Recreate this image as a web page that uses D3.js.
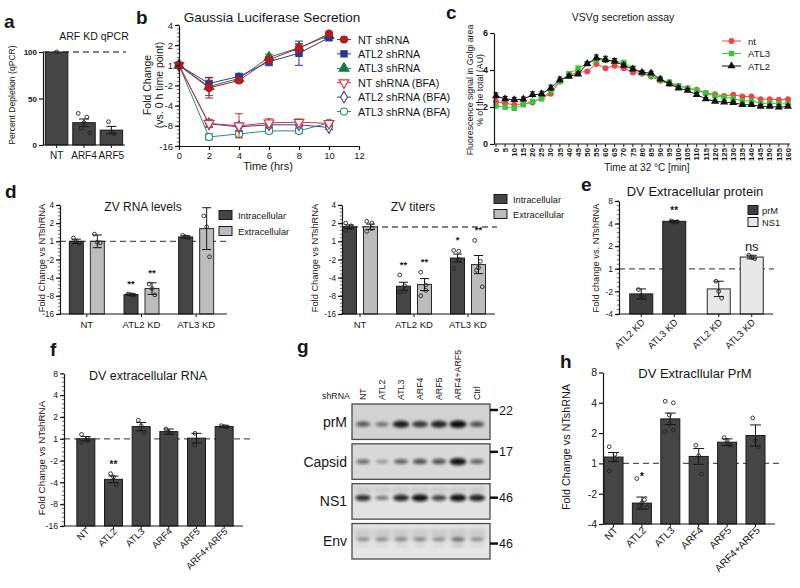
<!DOCTYPE html>
<html>
<head>
<meta charset="utf-8">
<script src="https://cdn.jsdelivr.net/npm/d3@7/dist/d3.min.js"></script>
<style>
html,body{margin:0;padding:0;background:#fff;}
svg{display:block;font-family:'Liberation Sans',Arial,Helvetica,sans-serif;}
</style>
</head>
<body>
<svg id="chart" width="800" height="588"></svg>
<script>
// ================= DATA =================
// Panel a
const aCats = ["NT", "ARF4", "ARF5"];
const aMean = [100, 24, 16];
const aErr = [0, 4, 4];
const aPts = [[100], [34, 30, 24, 18, 13], [25, 14, 12]];
const aTicks = [0, 50, 100];

// Panel b (signed log2 fold units: 0 = "1", 1 = "2", -1 = "-2", -3 = "-8")
const bTime = [0, 2, 4, 6, 8, 10];
const bXTicks = [0, 2, 4, 6, 8, 10, 12];
const bTicks = [-4, -3, -2, -1, 0, 1, 2];
const bTickLabels = ["-16", "-8", "-4", "-2", "1", "2", "4"];
const bNames = ["NT shRNA", "ATL2 shRNA", "ATL3 shRNA", "NT shRNA (BFA)", "ATL2 shRNA (BFA)", "ATL3 shRNA (BFA)"];
const bNT    = [0, -1.12, -0.75, 0.28, 0.85, 1.56];
const bATL2  = [0, -0.9, -0.55, 0.18, 0.6, 1.37];
const bATL3  = [0, -1.05, -0.65, 0.4, 0.87, 1.48];
const bNTb   = [0, -2.88, -3.0, -2.85, -2.82, -2.88];
const bATL2b = [0, -2.9, -3.05, -2.95, -2.95, -3.08];
const bATL3b = [0, -3.55, -3.4, -3.25, -3.25, -2.85];
const bNTe    = [0.1, 0.5, 0.1, 0.15, 0.2, 0.08];
const bATL2e  = [0.1, 0.3, 0.08, 0.2, 0.6, 0.05];
const bATL3e  = [0.1, 0.45, 0.1, 0.15, 0.2, 0.08];
const bNTbe   = [0.1, 0.2, 0.6, 0.2, 0.15, 0.12];
const bATL2be = [0.1, 0.15, 0.2, 0.12, 0.1, 0.1];
const bATL3be = [0.1, 0.15, 0.15, 0.12, 0.12, 0.1];

// Panel c
const cTime = [0,5,10,15,20,25,30,35,40,45,50,55,60,65,70,75,80,85,90,95,100,105,110,115,120,125,130,135,140,145,150,155,160];
const cYTicks = [0, 2, 4, 6];
const cNames = ["nt", "ATL3", "ATL2"];
const cNT   = [2.30,2.20,2.12,2.17,2.24,2.48,2.71,3.38,3.74,3.87,3.92,4.32,4.10,4.23,4.10,3.87,3.80,3.65,3.42,3.25,3.15,3.02,2.93,2.75,2.69,2.60,2.66,2.57,2.57,2.42,2.42,2.39,2.42];
const cATL3 = [2.06,1.99,1.93,2.12,2.30,2.44,2.88,3.38,3.80,4.10,4.34,4.56,4.52,4.47,4.41,4.10,3.83,3.70,3.47,3.35,3.15,3.02,2.89,2.75,2.60,2.53,2.46,2.33,2.33,2.20,2.20,2.17,2.17];
const cATL2 = [2.60,2.44,2.39,2.42,2.66,2.71,3.02,3.47,3.65,3.78,4.34,4.65,4.56,4.47,4.25,4.05,3.87,3.83,3.50,3.25,3.02,2.89,2.66,2.44,2.30,2.26,2.24,2.12,2.12,2.03,2.03,1.99,2.03];
const cATL2e = [0.16,0.13,0.13,0.12,0.16,0.14,0.16,0.15,0.12,0.10,0.10,0.16,0.18,0.15,0.12,0.12,0.10,0.10,0.12,0.10,0.10,0.10,0.12,0.08,0.08,0.08,0.08,0.10,0.10,0.10,0.10,0.12,0.10];

// Panel d (signed log2 fold units)
const dCats = ["NT", "ATL2 KD", "ATL3 KD"];
const dSeries = ["Intracellular", "Extracellular"];
const dTicks = [-4, -3, -2, -1, 0, 1, 2];
const dTickLabels = ["-16", "-8", "-4", "-2", "1", "2", "4"];
const dRnaIn  = [0, -2.93, 0.24];
const dRnaEx  = [0, -2.6, 0.7];
const dRnaInE = [0.12, 0.04, 0.07];
const dRnaExE = [0.35, 0.32, 1.15];
const dRnaInP = [[0.18, 0.0, -0.1], [-2.9, -2.93, -2.96], [0.33, 0.25, 0.2]];
const dRnaExP = [[0.4, -0.05, -0.08], [-2.35, -2.6, -2.95], [1.4, 0.8, -0.85]];
const dRnaInS = ["", "**", ""];
const dRnaExS = ["", "**", ""];
const dTitIn  = [0.8, -2.47, -0.92];
const dTitEx  = [0.8, -2.38, -1.28];
const dTitInE = [0.1, 0.22, 0.22];
const dTitExE = [0.15, 0.33, 0.5];
const dTitInP = [[1.0, 0.85, 0.75, 0.6], [-1.85, -2.45, -2.75, -2.8], [-0.5, -0.55, -1.0, -1.5]];
const dTitExP = [[1.1, 1.0, 0.7, 0.55], [-1.7, -2.4, -2.7, -3.0], [0.05, -1.1, -1.45, -1.6, -2.5]];
const dTitInS = ["", "**", "*"];
const dTitExS = ["", "**", "**"];

// Panel e
const eSeries = ["prM", "NS1"];
const eCats = ["ATL2 KD", "ATL3 KD"];
const eTicks = [-2, -1, 0, 1, 2, 3];
const eTickLabels = ["-4", "-2", "1", "2", "4", "8"];
const ePrM  = [-1.11, 2.1];
const eNS1  = [-0.89, 0.52];
const ePrME = [0.22, 0.04];
const eNS1E = [0.34, 0.08];
const ePrMP = [[-0.92, -1.2, -1.28], [2.12, 2.06, 2.08]];
const eNS1P = [[-0.55, -1.0, -1.3], [0.6, 0.5, 0.45]];
const ePrMS = ["", "**"];
const eNS1S = ["", "ns"];

// Panel f
const fCats = ["NT", "ATL2", "ATL3", "ARF4", "ARF5", "ARF4+ARF5"];
const fTicks = [-4, -3, -2, -1, 0, 1, 2, 3];
const fTickLabels = ["-16", "-8", "-4", "-2", "1", "2", "4", "8"];
const fMean = [0, -1.86, 0.56, 0.33, 0.03, 0.56];
const fErr  = [0.1, 0.15, 0.19, 0.12, 0.22, 0.03];
const fPts  = [[0.2, 0.02, -0.1, -0.15], [-1.6, -1.75, -2.1], [0.85, 0.6, 0.3], [0.45, 0.3, 0.25], [0.25, -0.3], [0.6, 0.57, 0.55]];
const fStars = ["", "**", "", "", "", ""];

// Panel g (western blot band intensities, 0..1)
const gLanes = ["NT", "ATL2", "ATL3", "ARF4", "ARF5", "ARF4+ARF5", "Ctrl"];
const gRows = ["prM", "Capsid", "NS1", "Env"];
const gMW = ["22", "17", "46", "46"];
const gPrM    = [0.5, 0.35, 0.9, 0.72, 0.85, 1.0, 0.55];
const gCapsid = [0.4, 0.15, 0.45, 0.55, 0.55, 0.95, 0.45];
const gNS1    = [0.75, 0.35, 0.82, 0.95, 0.65, 0.95, 0.85];
const gEnv    = [0.18, 0.18, 0.2, 0.2, 0.18, 0.35, 0.18];

// Panel h
const hCats = ["NT", "ATL2", "ATL3", "ARF4", "ARF5", "ARF4+ARF5"];
const hTicks = [-2, -1, 0, 1, 2, 3];
const hTickLabels = ["-4", "-2", "1", "2", "4", "8"];
const hMean = [0.21, -1.31, 1.47, 0.23, 0.7, 0.92];
const hErr  = [0.15, 0.2, 0.19, 0.26, 0.11, 0.35];
const hPts  = [[0.55, 0.3, 0.15, -0.25], [-0.5, -1.2, -1.3, -1.4, -1.45], [2.05, 2.0, 1.6, 1.3, 1.1, 1.05], [0.6, 0.25, -0.35], [0.85, 0.75, 0.6], [1.5, 0.75, 0.55]];
const hStars = ["", "*", "", "", "", ""];

// ================= HELPERS =================
const svg = d3.select("#chart");
const FONT = "'Liberation Sans', Arial, Helvetica, sans-serif";
const INK = "#161616";
const DARK = "#454545";
const LIGHT = "#bcbcbc";

function text(g, x, y, s, fs, o = {}) {
  const t = g.append("text").attr("x", x).attr("y", y).text(s)
    .attr("font-size", fs).attr("fill", o.fill || INK)
    .attr("text-anchor", o.anchor || "start")
    .attr("font-weight", o.fw || "normal");
  if (o.rot) t.attr("transform", `rotate(${o.rot},${x},${y})`);
  return t;
}

function yAxis(g, y, x0, ticks, labels, fs, o = {}) {
  const a = g.append("g").attr("transform", `translate(${x0},0)`)
    .call(d3.axisLeft(y).tickValues(ticks).tickFormat((d, i) => labels[i])
      .tickSize(o.ts || 4).tickSizeOuter(0).tickPadding(o.pad || 2));
  a.select(".domain").attr("stroke", INK).attr("stroke-width", o.sw || 1.2);
  a.selectAll(".tick line").attr("stroke", INK).attr("stroke-width", o.sw || 1.2);
  a.selectAll(".tick text").attr("font-size", fs).attr("fill", INK)
    .attr("font-family", FONT).attr("font-weight", o.fw || "normal");
  if (o.minor) {
    const dm = y.domain();
    const mv = d3.range(Math.min(...dm), Math.max(...dm) + 1e-9, o.minor);
    a.append("g").selectAll("line").data(mv).join("line")
      .attr("x1", -2.2).attr("x2", 0).attr("y1", d => y(d)).attr("y2", d => y(d))
      .attr("stroke", INK).attr("stroke-width", 0.6);
  }
  return a;
}

function xBase(g, x1, x2, y0, centers, ts = 3) {
  g.append("line").attr("x1", x1).attr("x2", x2).attr("y1", y0).attr("y2", y0)
    .attr("stroke", INK).attr("stroke-width", 1.2);
  g.append("g").selectAll("line").data(centers).join("line")
    .attr("x1", d => d).attr("x2", d => d).attr("y1", y0).attr("y2", y0 + ts)
    .attr("stroke", INK).attr("stroke-width", 1);
}

function dashed(g, x1, x2, yy) {
  g.append("line").attr("x1", x1).attr("x2", x2).attr("y1", yy).attr("y2", yy)
    .attr("stroke", "#555").attr("stroke-width", 1.3).attr("stroke-dasharray", "6,4");
}

function drawBars(g, cxs, y, means, errs, pts, bw, fill, o = {}) {
  const base = y.range()[0];
  g.append("g").selectAll("rect").data(means).join("rect")
    .attr("x", (d, i) => cxs[i] - bw / 2).attr("width", bw)
    .attr("y", d => y(d)).attr("height", d => base - y(d))
    .attr("fill", fill).attr("stroke", o.stroke || "#1a1a1a").attr("stroke-width", 1);
  const cw = o.cap || bw * 0.5;
  const eg = g.append("g").attr("stroke", INK).attr("stroke-width", 1);
  means.forEach((m, i) => {
    const e = errs[i];
    if (!e) return;
    const cx = cxs[i];
    eg.append("line").attr("x1", cx).attr("x2", cx).attr("y1", y(m - e)).attr("y2", y(m + e));
    eg.append("line").attr("x1", cx - cw / 2).attr("x2", cx + cw / 2).attr("y1", y(m + e)).attr("y2", y(m + e));
    eg.append("line").attr("x1", cx - cw / 2).attr("x2", cx + cw / 2).attr("y1", y(m - e)).attr("y2", y(m - e));
  });
  const flat = [];
  pts.forEach((arr, i) => {
    const n = arr.length;
    const sp = Math.min(3.2, (bw * 0.6) / Math.max(1, n - 1));
    arr.forEach((v, j) => flat.push({ x: cxs[i] + (j - (n - 1) / 2) * sp * (j % 2 ? -1 : 1) * 0.9, v }));
  });
  g.append("g").selectAll("circle").data(flat).join("circle")
    .attr("cx", d => d.x).attr("cy", d => y(d.v)).attr("r", o.r || 1.9)
    .attr("fill", "none").attr("stroke", "#222").attr("stroke-width", 0.9);
  if (o.stars) {
    o.stars.forEach((s, i) => {
      if (!s) return;
      const top = Math.min(y(means[i] + (errs[i] || 0)), ...pts[i].map(v => y(v)));
      const isNs = s === "ns";
      text(g, cxs[i], top - (isNs ? 4 : (o.starOff || 7)), s, isNs ? (o.nsFs || 12) : (o.starFs || 10),
        { anchor: "middle", fw: isNs ? "normal" : "bold" });
    });
  }
}

function panelLetter(x, y, s) {
  text(svg, x, y, s, 19, { fw: "bold" });
}

// ================= PANEL a =================
(function () {
  const g = svg.append("g");
  const x = d3.scaleBand().domain(aCats).range([44, 124]).paddingInner(0.18).paddingOuter(0.05);
  const y = d3.scaleLinear().domain([0, 100]).range([145, 52]);
  dashed(g, 43, 126, y(100));
  const cx = aCats.map(c => x(c) + x.bandwidth() / 2);
  drawBars(g, cx, y, aMean, aErr, aPts, x.bandwidth(), DARK, { cap: 10 });
  yAxis(g, y, 43, aTicks, aTicks.map(String), 8, { fw: "bold" });
  xBase(g, 43, 125, 145, cx);
  cx.forEach((c, i) => text(g, c, 159, aCats[i], 10, { anchor: "middle" }));
  text(g, 94, 40, "ARF KD qPCR", 10.5, { anchor: "middle" });
  text(g, 15, 95, "Percent Depletion (qPCR)", 8.6, { anchor: "middle", rot: -90 });
  panelLetter(4, 28, "a");
})();

// ================= PANEL b =================
(function () {
  const g = svg.append("g");
  const x = d3.scaleLinear().domain([0, 12]).range([179, 359]);
  const y = d3.scaleLinear().domain([-4, 2]).range([146, 25]);
  const series = [
    { v: bNT, e: bNTe, c: "#b11e24", sym: d3.symbolCircle, fill: true, rot: 0 },
    { v: bATL2, e: bATL2e, c: "#2b3990", sym: d3.symbolSquare, fill: true, rot: 0 },
    { v: bATL3, e: bATL3e, c: "#167a4a", sym: d3.symbolTriangle, fill: true, rot: 0 },
    { v: bNTb, e: bNTbe, c: "#d3343a", sym: d3.symbolTriangle, fill: false, rot: 180 },
    { v: bATL2b, e: bATL2be, c: "#3d3fa6", sym: d3.symbolDiamond, fill: false, rot: 0 },
    { v: bATL3b, e: bATL3be, c: "#279367", sym: d3.symbolCircle, fill: false, rot: 0 }
  ];
  const line = d3.line().x((d, i) => x(bTime[i])).y(d => y(d));
  const size = s => (s.sym === d3.symbolDiamond ? 40 : s.sym === d3.symbolTriangle ? 42 : 40);
  series.slice().reverse().forEach(s => {
    const sg = g.append("g");
    sg.append("path").attr("d", line(s.v)).attr("fill", "none").attr("stroke", s.c).attr("stroke-width", 1);
    s.v.forEach((v, i) => {
      const cx = x(bTime[i]);
      sg.append("line").attr("x1", cx).attr("x2", cx).attr("y1", y(v - s.e[i])).attr("y2", y(v + s.e[i])).attr("stroke", s.c).attr("stroke-width", 1);
      [v - s.e[i], v + s.e[i]].forEach(w => sg.append("line").attr("x1", cx - 4).attr("x2", cx + 4).attr("y1", y(w)).attr("y2", y(w)).attr("stroke", s.c).attr("stroke-width", 1));
    });
    sg.selectAll("path.m").data(s.v).join("path").attr("class", "m")
      .attr("d", d3.symbol().type(s.sym).size(size(s)))
      .attr("transform", (d, i) => `translate(${x(bTime[i])},${y(d)}) rotate(${s.rot})`)
      .attr("fill", s.fill ? s.c : "#fff").attr("stroke", s.c).attr("stroke-width", 1.1);
  });
  yAxis(g, y, 179, bTicks, bTickLabels, 9.5, { minor: 0.2 });
  const xa = g.append("g").attr("transform", "translate(0,146)")
    .call(d3.axisBottom(x).tickValues(bXTicks).tickSize(4).tickSizeOuter(0).tickPadding(2));
  xa.select(".domain").attr("stroke", INK).attr("stroke-width", 1.2);
  xa.selectAll(".tick line").attr("stroke", INK).attr("stroke-width", 1.2);
  xa.selectAll(".tick text").attr("font-size", 9.5).attr("fill", INK).attr("font-family", FONT);
  text(g, 268, 170, "Time (hrs)", 11, { anchor: "middle" });
  text(g, 151, 85, "Fold Change", 10.5, { anchor: "middle", rot: -90 });
  text(g, 163, 85, "(vs. 0 h time point)", 10.5, { anchor: "middle", rot: -90 });
  text(g, 272, 22, "Gaussia Luciferase Secretion", 13.5, { anchor: "middle" });
  series.forEach((s, i) => {
    const ly = 39.5 + i * 14.4;
    g.append("line").attr("x1", 337).attr("x2", 351).attr("y1", ly).attr("y2", ly).attr("stroke", s.c).attr("stroke-width", 1);
    g.append("path").attr("d", d3.symbol().type(s.sym).size(size(s)))
      .attr("transform", `translate(344,${ly}) rotate(${s.rot})`)
      .attr("fill", s.fill ? s.c : "#fff").attr("stroke", s.c).attr("stroke-width", 1.1);
    text(g, 358, ly + 4, bNames[i], 10.8);
  });
  panelLetter(136, 24, "b");
})();

// ================= PANEL c =================
(function () {
  const g = svg.append("g");
  const x = d3.scaleLinear().domain([0, 160]).range([496, 788]);
  const y = d3.scaleLinear().domain([0, 6]).range([144, 33]);
  const series = [
    { v: cNT, c: "#f04545", sym: d3.symbolCircle, size: 28 },
    { v: cATL3, c: "#3cc43c", sym: d3.symbolSquare, size: 30 },
    { v: cATL2, c: "#111", sym: d3.symbolTriangle, size: 28, e: cATL2e }
  ];
  const line = d3.line().x((d, i) => x(cTime[i])).y(d => y(d));
  series.forEach(s => {
    const sg = g.append("g");
    sg.append("path").attr("d", line(s.v)).attr("fill", "none").attr("stroke", s.c).attr("stroke-width", 1);
    if (s.e) s.v.forEach((v, i) => {
      const cx = x(cTime[i]);
      sg.append("line").attr("x1", cx).attr("x2", cx).attr("y1", y(v - s.e[i])).attr("y2", y(v + s.e[i])).attr("stroke", s.c).attr("stroke-width", 1);
      sg.append("line").attr("x1", cx - 2.5).attr("x2", cx + 2.5).attr("y1", y(v + s.e[i])).attr("y2", y(v + s.e[i])).attr("stroke", s.c).attr("stroke-width", 1);
    });
    sg.selectAll("path.m").data(s.v).join("path").attr("class", "m")
      .attr("d", d3.symbol().type(s.sym).size(s.size))
      .attr("transform", (d, i) => `translate(${x(cTime[i])},${y(d)})`)
      .attr("fill", s.c);
  });
  yAxis(g, y, 494, cYTicks, cYTicks.map(String), 9, { fw: "bold", ts: 4 });
  g.append("line").attr("x1", 494).attr("x2", 790).attr("y1", 144).attr("y2", 144).attr("stroke", INK).attr("stroke-width", 1.2);
  cTime.forEach(t => {
    g.append("line").attr("x1", x(t)).attr("x2", x(t)).attr("y1", 144).attr("y2", 147).attr("stroke", INK).attr("stroke-width", 1);
    text(g, x(t), 148, String(t), 7.8, { anchor: "end", fw: "bold" }).attr("dy", "0.35em")
      .attr("transform", `translate(${x(t)},148) rotate(-90) translate(${-x(t)},-148)`);
  });
  text(g, 647, 171, "Time at 32 °C  [min]", 10, { anchor: "middle" });
  text(g, 473, 90, "Fluorescence signal in Golgi area", 8.8, { anchor: "middle", rot: -90 });
  text(g, 483, 90, "% of the total (AU)", 8.8, { anchor: "middle", rot: -90 });
  text(g, 623, 21, "VSVg secretion assay", 10.5, { anchor: "middle" });
  series.forEach((s, i) => {
    const ly = 41 + i * 12.5;
    g.append("line").attr("x1", 722).attr("x2", 741).attr("y1", ly).attr("y2", ly).attr("stroke", s.c).attr("stroke-width", 1);
    g.append("path").attr("d", d3.symbol().type(s.sym).size(s.size)).attr("transform", `translate(731.5,${ly})`).attr("fill", s.c);
    text(g, 748, ly + 3.5, cNames[i], 9.5);
  });
  panelLetter(446, 19, "c");
})();

// ================= PANEL d =================
function groupedPanel(opts) {
  const g = svg.append("g");
  const y = d3.scaleLinear().domain([-4, 2]).range([314, 205]);
  const x = d3.scaleBand().domain(dCats).range(opts.range);
  const centers = dCats.map(c => x(c) + x.bandwidth() / 2);
  dashed(g, opts.axisX, opts.dashEnd, y(opts.dashVal));
  const bw = 14;
  drawBars(g, centers.map(c => c - 10.5), y, opts.inM, opts.inE, opts.inP, bw, DARK, { cap: 9, stars: opts.inS, starFs: 9.5, starOff: 7 });
  drawBars(g, centers.map(c => c + 10.5), y, opts.exM, opts.exE, opts.exP, bw, LIGHT, { cap: 9, stars: opts.exS, starFs: 9.5, starOff: 7, stroke: "#2a2a2a" });
  yAxis(g, y, opts.axisX, dTicks, dTickLabels, 8.2, { minor: 0.2 });
  xBase(g, opts.axisX, opts.axisEnd, 314, centers);
  centers.forEach((c, i) => text(g, c, 328, dCats[i], 9.5, { anchor: "middle" }));
  text(g, opts.titleX, 211, opts.title, 12, { anchor: "middle" });
  text(g, opts.labX, 258, "Fold Change vs NTshRNA", 9.3, { anchor: "middle", rot: -90 });
  dSeries.forEach((s, i) => {
    const ly = opts.legY + i * opts.legDy;
    g.append("rect").attr("x", opts.legX).attr("y", ly - 4.5).attr("width", 13).attr("height", 9)
      .attr("fill", i === 0 ? DARK : LIGHT).attr("stroke", "#1a1a1a").attr("stroke-width", 1);
    text(g, opts.legX + 19, ly + 3.5, s, 9.3);
  });
}
groupedPanel({
  range: [59.5, 223.5], axisX: 60, axisEnd: 227, dashEnd: 228, dashVal: 0,
  inM: dRnaIn, inE: dRnaInE, inP: dRnaInP, inS: dRnaInS,
  exM: dRnaEx, exE: dRnaExE, exP: dRnaExP, exS: dRnaExS,
  title: "ZV RNA levels", titleX: 143, labX: 45, legX: 219, legY: 215, legDy: 16
});
groupedPanel({
  range: [333, 495], axisX: 342, axisEnd: 495, dashEnd: 497, dashVal: 0.79,
  inM: dTitIn, inE: dTitInE, inP: dTitInP, inS: dTitInS,
  exM: dTitEx, exE: dTitExE, exP: dTitExP, exS: dTitExS,
  title: "ZV titers", titleX: 413, labX: 318, legX: 494, legY: 199, legDy: 15
});
panelLetter(5, 198, "d");

// ================= PANEL e =================
(function () {
  const g = svg.append("g");
  const y = d3.scaleLinear().domain([-2, 3]).range([314, 201]);
  const xo = d3.scaleBand().domain(eSeries).range([619, 774]);
  const xi = d3.scaleBand().domain(eCats).range([-28, 28]).paddingInner(0.303);
  const bw = xi.bandwidth();
  dashed(g, 619, 774, y(0));
  const cP = eCats.map(c => xo("prM") + xo.bandwidth() / 2 + xi(c) + bw / 2);
  const cN = eCats.map(c => xo("NS1") + xo.bandwidth() / 2 + xi(c) + bw / 2);
  drawBars(g, cP, y, ePrM, ePrME, ePrMP, bw, "#3e3e3e", { cap: 10, stars: ePrMS, starOff: 6 });
  drawBars(g, cN, y, eNS1, eNS1E, eNS1P, bw, "#e8e8e8", { cap: 10, stars: eNS1S, nsFs: 13, stroke: "#2a2a2a" });
  yAxis(g, y, 619, eTicks, eTickLabels, 8.5, { minor: 0.2 });
  const all = cP.concat(cN);
  xBase(g, 619, 773, 314, all);
  const labs = eCats.concat(eCats);
  all.forEach((c, i) => text(g, c + 4, 323, labs[i], 9.5, { anchor: "end", rot: -45 }));
  text(g, 695, 196, "DV Extracellular protein", 13, { anchor: "middle" });
  text(g, 599, 258, "Fold change vs. NTshRNA", 9.3, { anchor: "middle", rot: -90 });
  eSeries.forEach((s, i) => {
    const ly = 210 + i * 12;
    g.append("rect").attr("x", 748).attr("y", ly - 4.5).attr("width", 10).attr("height", 9)
      .attr("fill", i === 0 ? "#3e3e3e" : "#e8e8e8").attr("stroke", "#1a1a1a").attr("stroke-width", 1);
    text(g, 762, ly + 3.5, s, 9.3);
  });
  panelLetter(581, 191, "e");
})();

// ================= PANEL f =================
(function () {
  const g = svg.append("g");
  const y = d3.scaleLinear().domain([-4, 3]).range([526, 373.4]);
  const x = d3.scaleBand().domain(fCats).range([72, 238]).paddingInner(0.35).paddingOuter(0.175);
  const cx = fCats.map(c => x(c) + x.bandwidth() / 2);
  dashed(g, 64, 253, y(0));
  drawBars(g, cx, y, fMean, fErr, fPts, x.bandwidth(), DARK, { cap: 10, stars: fStars, starOff: 6 });
  yAxis(g, y, 64, fTicks, fTickLabels, 8.6, { minor: 0.2 });
  xBase(g, 64, 243, 526, cx);
  cx.forEach((c, i) => text(g, c + 4, 532, fCats[i], 9.5, { anchor: "end", rot: -45 }));
  text(g, 148, 380, "DV extracellular RNA", 12.5, { anchor: "middle" });
  text(g, 45, 458, "Fold Change vs NTshRNA", 9.8, { anchor: "middle", rot: -90 });
  panelLetter(50, 356, "f");
})();

// ================= PANEL g (western blot) =================
(function () {
  const g = svg.append("g");
  const defs = svg.append("defs");
  const f = defs.append("filter").attr("id", "blur").attr("x", "-60%").attr("y", "-150%").attr("width", "220%").attr("height", "400%");
  f.append("feGaussianBlur").attr("stdDeviation", 1.4);
  const f2 = defs.append("filter").attr("id", "blur2").attr("x", "-60%").attr("y", "-150%").attr("width", "220%").attr("height", "400%");
  f2.append("feGaussianBlur").attr("stdDeviation", 2.2);
  const lx = d3.scalePoint().domain(gLanes).range([363, 477]);
  const rowY = d3.scaleBand().domain(gRows).range([404, 559]).paddingInner(0.11);
  const bg = { prM: "#d2d2d2", Capsid: "#d9d9d9", NS1: "#e2e2e2", Env: "#e5e5e5" };
  const vals = { prM: gPrM, Capsid: gCapsid, NS1: gNS1, Env: gEnv };
  gRows.forEach((r, ri) => {
    const y0 = rowY(r), h = rowY.bandwidth();
    g.append("rect").attr("x", 352).attr("y", y0).attr("width", 138).attr("height", h)
      .attr("fill", bg[r]).attr("stroke", "#4a4a4a").attr("stroke-width", 1.3);
    const by = r === "prM" ? y0 + h * 0.57 : r === "Capsid" ? y0 + h * 0.5 : r === "NS1" ? y0 + h * 0.4 : y0 + h * 0.45;
    if (r === "NS1" || r === "Env") {
      gLanes.forEach(l => g.append("rect").attr("x", lx(l) - 8.5).attr("y", y0 + (r === "NS1" ? 3 : 5)).attr("width", 17).attr("height", r === "NS1" ? 6 : 12)
        .attr("fill", "#9a9a9a").attr("opacity", 0.35).attr("filter", "url(#blur2)"));
    }
    g.append("g").selectAll("ellipse").data(vals[r]).join("ellipse")
      .attr("cx", (d, i) => lx(gLanes[i])).attr("cy", by)
      .attr("rx", d => 6 + 2.5 * d).attr("ry", d => 1.4 + 2.4 * d)
      .attr("fill", "#0d0d0d").attr("opacity", d => 0.25 + 0.75 * d).attr("filter", "url(#blur)");
    if (r === "Env") {
      g.append("g").selectAll("ellipse").data(vals[r]).join("ellipse")
        .attr("cx", (d, i) => lx(gLanes[i])).attr("cy", by + 6)
        .attr("rx", 7).attr("ry", d => 1 + 2 * d)
        .attr("fill", "#333").attr("opacity", d => 0.5 * d).attr("filter", "url(#blur)");
    }
    text(g, 347, y0 + h / 2 + 5, r, 14, { anchor: "end" });
    const my = r === "prM" ? y0 + 6 : r === "Capsid" ? y0 + 8 : r === "NS1" ? y0 + 14 : y0 + 20;
    g.append("line").attr("x1", 490).attr("x2", 498).attr("y1", my).attr("y2", my).attr("stroke", "#111").attr("stroke-width", 2.5);
    text(g, 499, my + 4.5, gMW[ri], 12.5);
  });
  gLanes.forEach(l => text(g, lx(l) + 3, 400, l, 8.8, { anchor: "start", rot: -90 }));
  text(g, 336, 399, "shRNA", 8.8, { anchor: "middle" });
  panelLetter(297, 353, "g");
})();

// ================= PANEL h =================
(function () {
  const g = svg.append("g");
  const y = d3.scaleLinear().domain([-2, 3]).range([524, 372.5]);
  const x = d3.scaleBand().domain(hCats).range([599.3, 769.7]).paddingInner(0.33).paddingOuter(0.165);
  const cx = hCats.map(c => x(c) + x.bandwidth() / 2);
  dashed(g, 603, 780, y(0));
  drawBars(g, cx, y, hMean, hErr, hPts, x.bandwidth(), DARK, { cap: 11, stars: hStars, starFs: 11, starOff: -1 });
  yAxis(g, y, 603, hTicks, hTickLabels, 10.5, { ts: 4 });
  xBase(g, 603, 775, 524, cx);
  cx.forEach((c, i) => text(g, c + 5, 531, hCats[i], 10.3, { anchor: "end", rot: -45 }));
  text(g, 695, 378, "DV Extracllular PrM", 13, { anchor: "middle" });
  text(g, 570, 447, "Fold Change vs NTshRNA", 10.8, { anchor: "middle", rot: -90 });
  panelLetter(560, 368, "h");
})();
</script>
</body>
</html>
